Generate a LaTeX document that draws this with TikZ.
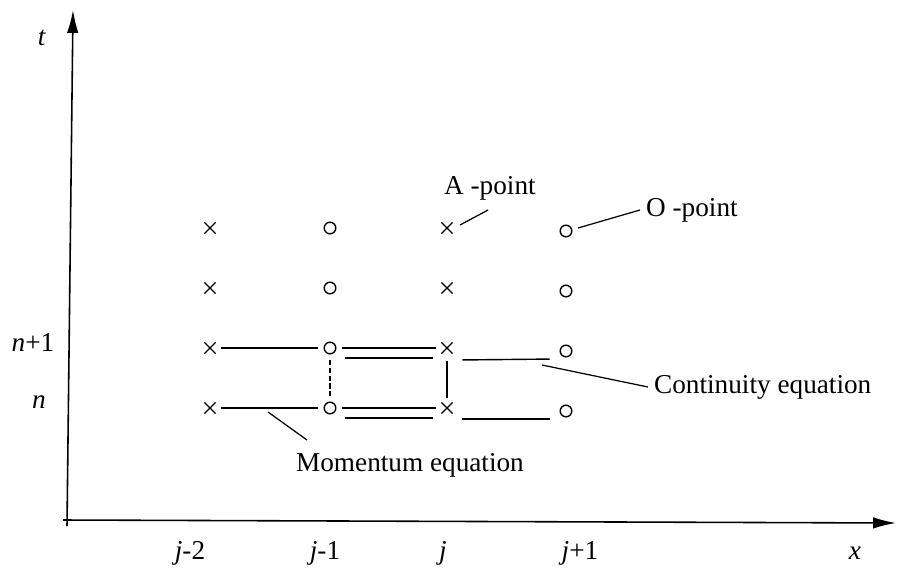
\documentclass[tikz,border=0pt]{standalone}
\usepackage{fontspec}
\setmainfont{Liberation Serif}
\usetikzlibrary{arrows.meta,calc,shapes.misc}

\begin{document}
\begin{tikzpicture}[x=0.02cm, y=-0.02cm, font=\fontsize{15.5}{18}\selectfont,
  >={Latex[length=13pt,width=6.5pt]},
  amark/.style={cross out, draw, line width=0.7pt, minimum size=5.6pt, inner sep=0pt},
  omark/.style={circle, draw, line width=0.8pt, minimum size=6.6pt, inner sep=0pt},
  eqline/.style={line width=0.8pt, shorten <=3pt, shorten >=3pt},
  lead/.style={line width=0.7pt},
  axis/.style={line width=0.9pt, ->}]
\useasboundingbox (0,0) rectangle (897,576);
\coordinate (ybot) at (67,526);
\coordinate (ytop) at (73,10);
\coordinate (xbot) at (63,520);
\coordinate (xtop) at (896,523);
\draw[axis] (ybot) -- (ytop);
\draw[axis] (xbot) -- (xtop);
\node (tlab)  at (42,38)  {\textit{t}};
\node (n1lab) at (33,343) {\textit{n}+1};
\node (nlab)  at (39,402) {\textit{n}};
\node (j2lab) at (190,553) {\textit{j}-2};
\node (j1lab) at (325,553) {\textit{j}-1};
\node (jlab)  at (443,553) {\textit{j}};
\node (jplab) at (580,553) {\textit{j}+1};
\node (xlab)  at (855,553) {\textit{x}};
\foreach \r/\yy in {1/228,2/288,3/348,4/408}{
  \node[amark] (m\r1) at (210,\yy) {};
  \node[omark] (m\r2) at (330,\yy) {};
  \node[amark] (m\r3) at (447,\yy) {};
  \node[omark] (m\r4) at (566,\yy+3) {};
}
\draw[eqline] (m31) -- (m32);
\draw[eqline] (m32) -- (m33);
\draw[eqline] ($(m32)+(10,10)$) -- ($(m33)+(-9,10)$);
\draw[eqline] ($(m33)+(10,12)$) -- ($(m34)+(-11,8)$);
\draw[eqline] (m41) -- (m42);
\draw[eqline] (m42) -- (m43);
\draw[eqline] ($(m42)+(10,10)$) -- ($(m43)+(-9,10)$);
\draw[eqline] ($(m43)+(10,11)$) -- ($(m44)+(-11,8)$);
\draw[eqline, dash pattern=on 3pt off 1.5pt] (m32) -- (m42);
\draw[line width=0.8pt] ($(m33)+(0,13)$) -- ($(m43)+(0,-10)$);
\node[anchor=west] (alab) at (438,188) {A -point};
\node[anchor=west] (olab) at (640,210) {O -point};
\node[anchor=west] (clab) at (648,387) {Continuity equation};
\node (mlab) at (410,465) {Momentum equation};
\coordinate (atip) at (488,210);
\coordinate (cfoot) at ($(m34)+(-24,14)$);
\coordinate (mfoot) at ($(m41)+(58,4)$);
\coordinate (mtip) at (307,440);
\draw[lead] ($(m13)+(13,-3)$) -- (atip);
\draw[lead] ($(m14)+(12,-3)$) -- (olab.west);
\draw[lead] (cfoot) -- (clab.west);
\draw[lead] (mfoot) -- (mtip);
\end{tikzpicture}
\end{document}
